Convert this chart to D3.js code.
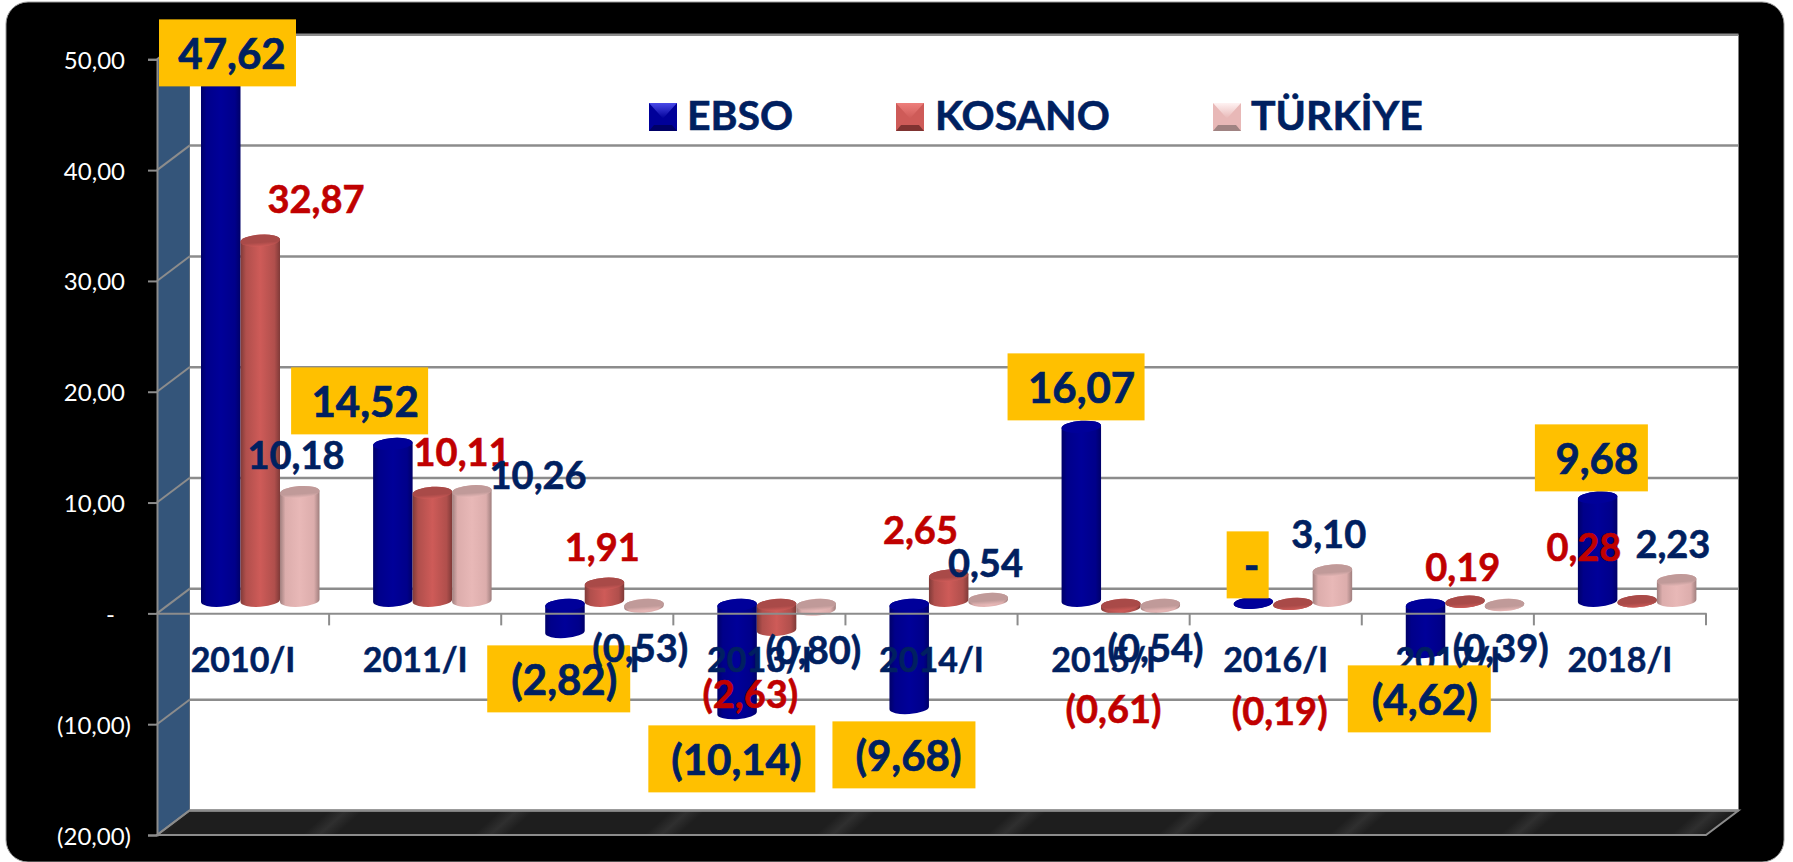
<!DOCTYPE html>
<html>
<head>
<meta charset="utf-8">
<script src="https://cdn.jsdelivr.net/npm/d3@7"></script>
<style>
	html, body { margin: 0; padding: 0; background: #fff; overflow: hidden; }
	text { font-family: Lato, "Open Sans", sans-serif; }
</style>
</head>
<body>
<script>
// Data
var categories = ["2010/I", "2011/I", "2012/I", "2013/I", "2014/I", "2015/I", "2016/I", "2017/I", "2018/I"];
var seriesNames = ["EBSO", "KOSANO", "TÜRKİYE"];
var ebso = [47.62, 14.52, -2.82, -10.14, -9.68, 16.07, 0, -4.62, 9.68];
var kosano = [32.87, 10.11, 1.91, -2.63, 2.65, -0.61, -0.19, 0.19, 0.28];
var turkiye = [10.18, 10.26, -0.53, -0.80, 0.54, -0.54, 3.10, -0.39, 2.23];
var yTicks = [50, 40, 30, 20, 10, 0, -10, -20];

// Hand placed labels of the original: offsets from the band start and from the zero line
var ebsoLabelDx = [75, 36, 63, 63, 63, 64, 62, 63, 63];
var ebsoLabelDy = [-544, -196, 82, 162, 158, -210, -32, 102, -139];
var ebsoBoxDx = [-73, -74, -77, -88, -76, -74, -25, -77, -62];
var ebsoBoxW = [137, 137, 143, 167, 143, 137, 42, 143, 113];
var kosanoLabelDx = [159, 133, 101, 77, 75, 96, 90, 101, 50];
var kosanoLabelDy = [-400, -147, -52, 95, -69, 110, 112, -32, -52];
var turkiyeLabelDx = [139, 209, 139, 140, 140, 138, 139, 139, 139];
var turkiyeLabelDy = [-144, -124, 49, 51, -36, 49, -65, 49, -55];

// Legend placement
var legendSwatchX = [649, 896, 1213];
var legendTextX = [687, 935, 1251];

// Colours of the cylinders: edge, side, middle, top, legend light, legend dark
var palette = [
	{ edge: "#000068", side: "#00008a", mid: "#000099", top: "#00009a", light: "#4a4ae8", dark: "#000066" },
	{ edge: "#7f3a38", side: "#b04f4c", mid: "#ce5b58", top: "#a94a48", light: "#ee7f7c", dark: "#7f3331" },
	{ edge: "#a07f7e", side: "#dcadac", mid: "#e8b8b7", top: "#c09a99", light: "#fff2f2", dark: "#a08382" }
];

var navy = "#002060", red = "#c00000", gold = "#ffc000", gridGrey = "#8c8c8c";

// Bounds of the 3D box
var width = 1793, height = 862;
var left = 157, right = 1706, depthX = 32.5, depthY = 24.5;

var svg = d3.select("body").append("svg")
	.attr("width", width)
	.attr("height", height)
	.style("display", "block");

var defs = svg.append("defs");

var y = d3.scaleLinear().domain([-20, 50]).range([835, 59.3]);
var x = d3.scaleBand().domain(categories).range([left, right]);
var inner = d3.scaleBand().domain(seriesNames).range([44, 44 + 118.5]);
var barW = inner.bandwidth(), rx = barW / 2, ry = 6;
var tilt = 1.3;

// Bars stand half way into the box. The upper end of a cylinder sits a little lower than the lower end would
var barEnds = function(v) {
	var top = y(Math.max(v, 0)) - 8.5, bottom = y(Math.min(v, 0)) - 12.6;
	if (bottom < top) top = bottom = (top + bottom) / 2;
	return [top, bottom];
};

palette.forEach(function(c, i) {
	var g = defs.append("linearGradient").attr("id", "body" + i);
	[[0, c.edge], [0.14, c.side], [0.5, c.mid], [0.86, c.side], [1, c.edge]].forEach(function(s) {
		g.append("stop").attr("offset", s[0]).attr("stop-color", s[1]);
	});
	var t = defs.append("linearGradient").attr("id", "top" + i).attr("x1", 0).attr("x2", 0).attr("y1", 0).attr("y2", 1);
	t.append("stop").attr("offset", 0).attr("stop-color", c.top);
	t.append("stop").attr("offset", 0.65).attr("stop-color", c.top);
	t.append("stop").attr("offset", 1).attr("stop-color", c.mid);
	var l = defs.append("linearGradient").attr("id", "light" + i).attr("x1", 0).attr("x2", 0).attr("y1", 0).attr("y2", 1);
	l.append("stop").attr("offset", 0).attr("stop-color", c.light);
	l.append("stop").attr("offset", 1).attr("stop-color", c.mid);
});

var floorGrad = defs.append("linearGradient")
	.attr("id", "floor")
	.attr("gradientUnits", "userSpaceOnUse")
	.attr("spreadMethod", "repeat")
	.attr("x1", 295).attr("y1", 780).attr("x2", 371).attr("y2", 865);
[[0, "#1e1e1e"], [0.4, "#1e1e1e"], [0.5, "#2f2f2f"], [0.6, "#1e1e1e"], [1, "#1e1e1e"]].forEach(function(s) {
	floorGrad.append("stop").attr("offset", s[0]).attr("stop-color", s[1]);
});

/*
 * Black panel, back wall, side wall and floor.
 */
svg.append("rect")
	.attr("x", 6).attr("y", 2)
	.attr("width", 1778).attr("height", 860)
	.attr("rx", 22)
	.attr("fill", "#000")
	.attr("stroke", "#9a9a9a")
	.attr("stroke-width", 1);

var backLeft = left + depthX, backRight = right + depthX;

svg.append("rect")
	.attr("x", backLeft).attr("y", y(50) - depthY)
	.attr("width", backRight - backLeft).attr("height", y(-20) - y(50))
	.attr("fill", "#fff");

svg.append("polygon")
	.attr("points", [[left, y(50)], [backLeft, y(50) - depthY], [backLeft, y(-20) - depthY], [left, y(-20)]].join(" "))
	.attr("fill", "#34557a");

svg.append("polygon")
	.attr("points", [[left, y(-20)], [backLeft, y(-20) - depthY], [backRight, y(-20) - depthY], [right, y(-20)]].join(" "))
	.attr("fill", "url(#floor)")
	.attr("stroke", gridGrey)
	.attr("stroke-width", 2);

// Gridlines run along the back wall and step down the side wall
svg.append("g").selectAll("line.back")
	.data(yTicks)
	.enter().append("line")
	.attr("x1", backLeft).attr("x2", backRight)
	.attr("y1", function(d) { return y(d) - depthY; })
	.attr("y2", function(d) { return y(d) - depthY; })
	.attr("stroke", gridGrey)
	.attr("stroke-width", 2.5);

svg.append("g").selectAll("line.side")
	.data(yTicks)
	.enter().append("line")
	.attr("x1", left).attr("x2", backLeft)
	.attr("y1", function(d) { return y(d); })
	.attr("y2", function(d) { return y(d) - depthY; })
	.attr("stroke", gridGrey)
	.attr("stroke-width", 2);

/*
 * Cylinders.
 */
var rows = [];
categories.forEach(function(c, i) {
	[ebso, kosano, turkiye].forEach(function(values, s) {
		rows.push({ cat: c, series: seriesNames[s], s: s, value: values[i] });
	});
});

var bars = svg.append("g").selectAll("g")
	.data(rows)
	.enter().append("g");

bars.append("path")
	.attr("fill", function(d) { return "url(#body" + d.s + ")"; })
	.attr("d", function(d) {
		var x0 = x(d.cat) + inner(d.series), x1 = x0 + barW;
		var ends = barEnds(d.value), yT = ends[0], yB = ends[1];
		return "M" + x0 + "," + (yT + tilt) + "L" + x0 + "," + (yB + tilt) +
			"A" + rx + "," + ry + " -4 0 0 " + x1 + "," + (yB - tilt) +
			"L" + x1 + "," + (yT - tilt) +
			"A" + rx + "," + ry + " -4 0 0 " + x0 + "," + (yT + tilt) + "Z";
	});

bars.append("ellipse")
	.attr("fill", function(d) { return "url(#top" + d.s + ")"; })
	.attr("rx", rx)
	.attr("ry", ry)
	.attr("transform", function(d) {
		return "translate(" + (x(d.cat) + inner(d.series) + rx) + "," + barEnds(d.value)[0] + ") rotate(-4)";
	});

/*
 * Axes.
 */
var tickText = function(v) {
	if (v === 0) return "-";
	var s = d3.format(".2f")(Math.abs(v)).replace(".", ",");
	return v < 0 ? "(" + s + ")" : s;
};

var yAxis = svg.append("g")
	.attr("transform", "translate(" + left + ",0)")
	.call(d3.axisLeft(y).tickValues(yTicks).tickSize(9).tickFormat(tickText));

yAxis.select(".domain").attr("stroke", gridGrey).attr("stroke-width", 2);
yAxis.selectAll(".tick line").attr("stroke", gridGrey).attr("stroke-width", 2);
yAxis.selectAll(".tick text")
	.attr("fill", "#fff")
	.style("font-family", "Lato, sans-serif")
	.style("font-size", "24px")
	.attr("dy", 9)
	.attr("x", function(d) { return d === 0 ? -42 : (d < 0 ? -26 : -32); });

var xAxis = svg.append("g")
	.attr("transform", "translate(0," + y(0) + ")")
	.call(d3.axisBottom(x).tickSize(0));

xAxis.select(".domain").attr("stroke", gridGrey).attr("stroke-width", 2);
xAxis.selectAll(".tick text")
	.attr("fill", navy)
	.attr("stroke", navy)
	.attr("stroke-width", 0.5)
	.attr("y", 59)
	.attr("dy", 0)
	.style("font-family", "Lato, sans-serif")
	.style("font-weight", 700)
	.style("font-size", "34px");

// Category ticks sit on the band edges
svg.append("g").selectAll("line")
	.data(categories)
	.enter().append("line")
	.attr("x1", function(d) { return x(d) + x.bandwidth(); })
	.attr("x2", function(d) { return x(d) + x.bandwidth(); })
	.attr("y1", y(0))
	.attr("y2", y(0) + 12)
	.attr("stroke", gridGrey)
	.attr("stroke-width", 2);

/*
 * Data labels.
 */
var ebsoLabels = svg.append("g").selectAll("g")
	.data(ebso)
	.enter().append("g")
	.attr("transform", function(d, i) {
		return "translate(" + (x(categories[i]) + ebsoLabelDx[i]) + "," + (y(0) + ebsoLabelDy[i]) + ")";
	});

ebsoLabels.append("rect")
	.attr("x", function(d, i) { return ebsoBoxDx[i]; })
	.attr("y", -50)
	.attr("width", function(d, i) { return ebsoBoxW[i]; })
	.attr("height", 67)
	.attr("fill", gold);

ebsoLabels.append("text")
	.attr("text-anchor", "middle")
	.attr("fill", navy)
	.attr("stroke", navy)
	.attr("stroke-width", 0.7)
	.style("font-weight", 700)
	.style("font-size", "42px")
	.text(tickText);

function addLabels(values, dx, dy, colour) {
	svg.append("g").selectAll("text")
		.data(values)
		.enter().append("text")
		.attr("x", function(d, i) { return x(categories[i]) + dx[i]; })
		.attr("y", function(d, i) { return y(0) + dy[i]; })
		.attr("text-anchor", "middle")
		.attr("fill", colour)
		.attr("stroke", colour)
		.attr("stroke-width", 0.6)
		.style("font-weight", 700)
		.style("font-size", "38px")
		.text(tickText);
}

addLabels(kosano, kosanoLabelDx, kosanoLabelDy, red);
addLabels(turkiye, turkiyeLabelDx, turkiyeLabelDy, navy);

/*
 * Legend.
 */
var legend = svg.append("g").selectAll("g")
	.data(seriesNames)
	.enter().append("g");

var sw = 28;
legend.append("rect")
	.attr("x", function(d, i) { return legendSwatchX[i]; })
	.attr("y", 103)
	.attr("width", sw).attr("height", sw)
	.attr("fill", function(d, i) { return palette[i].mid; });

legend.append("polygon")
	.attr("points", function(d, i) {
		var a = legendSwatchX[i];
		return [[a, 103], [a + sw, 103], [a + sw / 2, 103 + sw * 0.55]].join(" ");
	})
	.attr("fill", function(d, i) { return "url(#light" + i + ")"; });

legend.append("polygon")
	.attr("points", function(d, i) {
		var a = legendSwatchX[i];
		return [[a, 131], [a + sw, 131], [a + sw - 5, 125], [a + 5, 125]].join(" ");
	})
	.attr("fill", function(d, i) { return palette[i].dark; });

legend.append("text")
	.attr("x", function(d, i) { return legendTextX[i]; })
	.attr("y", 130)
	.attr("fill", navy)
	.attr("stroke", navy)
	.attr("stroke-width", 0.6)
	.style("font-weight", 700)
	.style("font-size", "41px")
	.text(function(d) { return d; });
</script>
</body>
</html>
